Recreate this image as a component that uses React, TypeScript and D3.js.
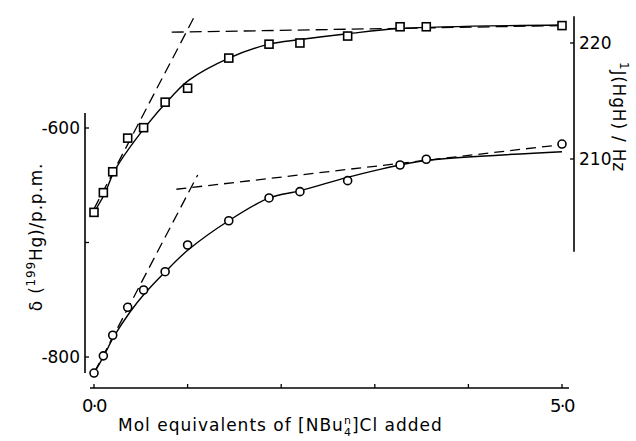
import React from "react";
import * as d3 from "d3";

// mol equivalents of [NBu4]Cl added
const xPoints = [0, 0.1, 0.2, 0.36, 0.53, 0.76, 1.0, 1.44, 1.87, 2.2, 2.71, 3.27, 3.55, 5.0];
// 1J(HgH) / Hz  (squares)
const jPoints = [205.4, 207.1, 208.9, 211.8, 212.7, 214.9, 216.1, 218.7, 219.9, 220.0, 220.6, 221.4, 221.4, 221.5];
// delta(199Hg) / ppm  (circles)
const dPoints = [-814, -799, -781, -756.6, -741.5, -725.5, -702.2, -681, -661.1, -655.6, -646, -632.3, -627.3, -614];

// hand-drawn fitted curves
const jFitX = [0, 0.114, 0.221, 0.542, 0.844, 1.015, 1.442, 1.87, 2.204, 2.71, 3.27, 5.0];
const jFitY = [205.4, 207.0, 209.0, 212.7, 215.5, 216.8, 218.7, 219.9, 220.3, 220.8, 221.25, 221.55];
const dFitX = [0, 0.11, 0.21, 0.385, 0.537, 0.762, 1.004, 1.439, 1.873, 2.208, 2.706, 3.056, 3.26, 3.54, 5.0];
const dFitY = [-814, -798.3, -782.5, -760.7, -745, -725.5, -706.6, -681, -661, -654.7, -643.1, -636.1, -632.5, -628.4, -620.7];

// dashed limiting lines [x0, y0, x1, y1]
const jInitial = [0, 205.7, 1.087, 222.5];
const jPlateau = [0.83, 220.93, 5.0, 221.5];
const dInitial = [0, -814, 1.108, -641];
const dPlateau = [0.88, -653.5, 5.0, -614.5];

const xTicks = [0, 1, 2, 3, 4, 5];
const xTickLabels = ["0·0", "", "", "", "", "5·0"];
const dTicks = [-800, -700, -600];
const dTickLabels = ["-800", "", "-600"];
const jTicks = [210, 220];

const font = "'DejaVu Sans', sans-serif";

export default function App() {
  const x = d3.scaleLinear().domain([0, 5]).range([94, 562]);
  const yD = d3.scaleLinear().domain([-800, -600]).range([357, 128]);
  const yJ = d3.scaleLinear().domain([210, 220]).range([159, 43]);

  const lineJ = d3
    .line<number>()
    .x((_, i) => x(jFitX[i]))
    .y((d) => yJ(d))
    .curve(d3.curveCatmullRom.alpha(0.5));
  const lineD = d3
    .line<number>()
    .x((_, i) => x(dFitX[i]))
    .y((d) => yD(d))
    .curve(d3.curveCatmullRom.alpha(0.5));

  const seg = (s: number[], y: d3.ScaleLinear<number, number>) =>
    `M${x(s[0])},${y(s[1])}L${x(s[2])},${y(s[3])}`;

  return (
    <svg
      width={636}
      height={441}
      style={{ position: "absolute", left: 0, top: 0, background: "#fff" }}
      fontFamily={font}
    >
      <g stroke="#000" fill="none">
        {/* axes */}
        <line x1={85} x2={85} y1={yD(-587)} y2={yD(-814)} strokeWidth={1.6} />
        <line x1={90} x2={569} y1={388} y2={388} strokeWidth={1.6} />
        <line x1={574} x2={574} y1={yJ(222.3)} y2={yJ(202)} strokeWidth={1.6} />
        {xTicks.map((t) => (
          <line key={t} x1={x(t)} x2={x(t)} y1={388} y2={384} strokeWidth={1.3} />
        ))}
        {dTicks.map((t) => (
          <line key={t} x1={85} x2={89} y1={yD(t)} y2={yD(t)} strokeWidth={1.3} />
        ))}
        {jTicks.map((t) => (
          <line key={t} x1={570} x2={574} y1={yJ(t)} y2={yJ(t)} strokeWidth={1.3} />
        ))}

        {/* dashed limiting lines */}
        <path d={seg(jInitial, yJ)} strokeWidth={1.3} strokeDasharray="11,6" />
        <path d={seg(jPlateau, yJ)} strokeWidth={1.3} strokeDasharray="12,6" />
        <path d={seg(dInitial, yD)} strokeWidth={1.3} strokeDasharray="11,6" />
        <path d={seg(dPlateau, yD)} strokeWidth={1.3} strokeDasharray="10,6" />

        {/* fitted curves */}
        <path d={lineJ(jFitY) || ""} strokeWidth={1.4} />
        <path d={lineD(dFitY) || ""} strokeWidth={1.4} />
      </g>

      {/* markers */}
      <g stroke="#000" strokeWidth={1.6} fill="#fff">
        {jPoints.map((v, i) => (
          <rect key={i} x={x(xPoints[i]) - 4} y={yJ(v) - 4} width={8} height={8} />
        ))}
        {dPoints.map((v, i) => (
          <circle key={i} cx={x(xPoints[i])} cy={yD(v)} r={4} />
        ))}
      </g>

      {/* tick labels */}
      <g fontSize={17} fill="#000">
        {dTicks.map((t, i) => (
          <text key={t} x={80} y={yD(t) + 6} textAnchor="end">
            {dTickLabels[i]}
          </text>
        ))}
        {jTicks.map((t) => (
          <text key={t} x={579} y={yJ(t) + 6}>
            {t}
          </text>
        ))}
        {xTicks.map((t, i) => (
          <text key={t} x={x(t)} y={412} textAnchor="middle" fontSize={18} letterSpacing={-1.5}>
            {xTickLabels[i]}
          </text>
        ))}
      </g>

      {/* axis titles */}
      <text x={118} y={431} fontSize={17} letterSpacing={1} fill="#000">
        Mol equivalents of [NBu
        <tspan fontSize={11} dy={-7}>n</tspan>
        <tspan fontSize={11} dx={-8} dy={12}>4</tspan>
        <tspan dy={-5}>]Cl added</tspan>
      </text>
      <text transform="translate(42,237) rotate(-90)" textAnchor="middle" fontSize={17} letterSpacing={0.8} fill="#000">
        δ (<tspan fontSize={12} dy={-7}>199</tspan>
        <tspan dy={7}>Hg)/p.p.m.</tspan>
      </text>
      <text transform="translate(613,117) rotate(90)" textAnchor="middle" fontSize={17} letterSpacing={0.8} fill="#000">
        <tspan fontSize={12} dy={-7}>1</tspan>
        <tspan dy={7}>J(HgH) / Hz</tspan>
      </text>
    </svg>
  );
}
